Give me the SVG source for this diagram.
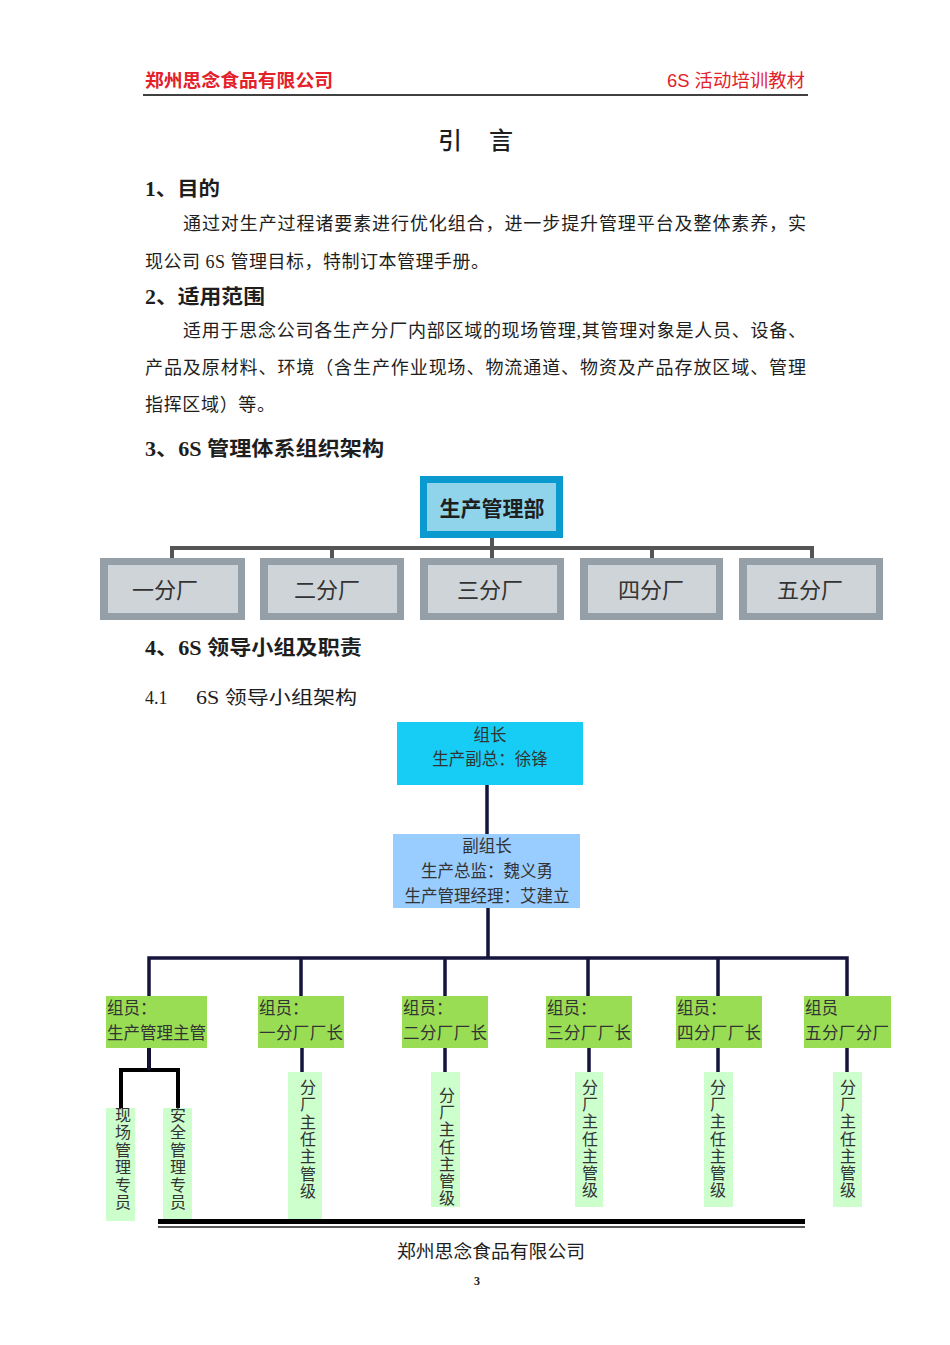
<svg xmlns="http://www.w3.org/2000/svg" width="950" height="1345" viewBox="0 0 950 1345">
<style>
text{font-family:"Liberation Serif","Noto Sans CJK SC",serif;fill:#1e1e1e}
.hdr{font-family:"Liberation Sans","Noto Sans CJK SC",sans-serif;fill:#e3212b;font-size:18px}
.h{font-size:20px;font-weight:bold}
.p{font-size:18px}
.br{font-size:22px;fill:#333;text-anchor:middle}
.n{font-size:16.5px;fill:#333}
.nc{font-size:16.5px;fill:#333;text-anchor:middle}
.v{font-size:16px;fill:#333;text-anchor:middle}
.gray{stroke:#555;stroke-width:4;fill:none}
.navy{stroke:#14143c;stroke-width:3.5;fill:none}
.blk{stroke:#000;stroke-width:4;fill:none}
.bo{fill:#959fa8}
.bi{fill:#cfd4d9}
.g{fill:#99dd55}
.lg{fill:#ccffcc}
</style>
<rect width="950" height="1345" fill="#fff"/>
<g id="header">
<text class="hdr" x="145" y="87" font-weight="bold" textLength="188" lengthAdjust="spacingAndGlyphs">郑州思念食品有限公司</text>
<text class="hdr" x="805" y="87" text-anchor="end" textLength="138" lengthAdjust="spacingAndGlyphs">6S 活动培训教材</text>
<line x1="143" y1="95" x2="808" y2="95" stroke="#000" stroke-width="1.3"/>
</g>
<g id="title">
<text x="450" y="149" font-size="24" font-weight="500" text-anchor="middle">引</text>
<text x="501" y="149" font-size="24" font-weight="500" text-anchor="middle">言</text>
</g>
<g id="sec1">
<text class="h" x="145" y="196" textLength="75" lengthAdjust="spacingAndGlyphs">1、目的</text>
<text class="p" x="183" y="230" textLength="623" lengthAdjust="spacing">通过对生产过程诸要素进行优化组合，进一步提升管理平台及整体素养，实</text>
<text class="p" x="145" y="268" textLength="344" lengthAdjust="spacing">现公司 6S 管理目标，特制订本管理手册。</text>
</g>
<g id="sec2">
<text class="h" x="145" y="304" textLength="120" lengthAdjust="spacingAndGlyphs">2、适用范围</text>
<text class="p" x="183" y="337" textLength="623" lengthAdjust="spacing">适用于思念公司各生产分厂内部区域的现场管理,其管理对象是人员、设备、</text>
<text class="p" x="145" y="374" textLength="661" lengthAdjust="spacing">产品及原材料、环境（含生产作业现场、物流通道、物资及产品存放区域、管理</text>
<text class="p" x="145" y="411" textLength="130" lengthAdjust="spacing">指挥区域）等。</text>
</g>
<text class="h" x="145" y="456" textLength="239" lengthAdjust="spacingAndGlyphs">3、6S 管理体系组织架构</text>
<g id="org1-connectors">
<path class="gray" d="M492 538V548M172 558V548H812V558M332 548V558M492 548V558M652 548V558"/>
</g>
<g id="org1-top">
<rect x="420" y="476" width="143" height="62" fill="#0b9ad0"/>
<rect x="427" y="483" width="129" height="48" fill="#8fd4ea"/>
<text x="492" y="516" font-size="21" font-weight="bold" text-anchor="middle" fill="#111">生产管理部</text>
</g>
<g id="org1-b1"><rect class="bo" x="100" y="558" width="145" height="62"/><rect class="bi" x="108" y="565" width="130" height="48"/><text class="br" x="165" y="598">一分厂</text></g>
<g id="org1-b2"><rect class="bo" x="260" y="558" width="144" height="62"/><rect class="bi" x="268" y="565" width="129" height="48"/><text class="br" x="327" y="598">二分厂</text></g>
<g id="org1-b3"><rect class="bo" x="420" y="558" width="144" height="62"/><rect class="bi" x="428" y="565" width="129" height="48"/><text class="br" x="490" y="598">三分厂</text></g>
<g id="org1-b4"><rect class="bo" x="580" y="558" width="143" height="62"/><rect class="bi" x="588" y="565" width="128" height="48"/><text class="br" x="651" y="598">四分厂</text></g>
<g id="org1-b5"><rect class="bo" x="739" y="558" width="144" height="62"/><rect class="bi" x="747" y="565" width="129" height="48"/><text class="br" x="810" y="598">五分厂</text></g>
<text class="h" x="145" y="655" textLength="217" lengthAdjust="spacingAndGlyphs">4、6S 领导小组及职责</text>
<text class="p" x="145" y="704" font-size="19">4.1</text>
<text class="p" x="196" y="704" font-size="19.5" textLength="161" lengthAdjust="spacingAndGlyphs">6S 领导小组架构</text>
<g id="org2-connectors">
<path class="navy" d="M487 785V835M488 908V958M149 996V958H847V996M301 958V996M445 958V996M588 958V996M718 958V996"/>
<path class="navy" d="M302 1048V1072M445 1048V1072M589 1048V1072M718 1048V1072M847 1048V1072"/>
<path class="blk" d="M149 1048V1070M121 1108V1070H178V1108"/>
<path class="navy" d="M149 1048V1070"/>
</g>
<g id="leader"><rect x="397" y="722" width="186" height="63" fill="#17cdf5"/><text class="nc" x="490" y="741">组长</text><text class="nc" x="490" y="765">生产副总：徐锋</text></g>
<g id="vice"><rect x="393" y="834" width="187" height="74" fill="#99ccff"/><text class="nc" x="487" y="852">副组长</text><text class="nc" x="487" y="877">生产总监：魏义勇</text><text class="nc" x="487" y="902">生产管理经理：艾建立</text></g>
<g id="m1"><rect class="g" x="106" y="996" width="101" height="52"/><text class="n" x="107" y="1014">组员：</text><text class="n" x="107" y="1039" textLength="99" lengthAdjust="spacing">生产管理主管</text></g>
<g id="m2"><rect class="g" x="258" y="996" width="86" height="52"/><text class="n" x="259" y="1014">组员：</text><text class="n" x="259" y="1039" textLength="84" lengthAdjust="spacing">一分厂厂长</text></g>
<g id="m3"><rect class="g" x="402" y="996" width="86" height="52"/><text class="n" x="403" y="1014">组员：</text><text class="n" x="403" y="1039" textLength="84" lengthAdjust="spacing">二分厂厂长</text></g>
<g id="m4"><rect class="g" x="546" y="996" width="86" height="52"/><text class="n" x="547" y="1014">组员：</text><text class="n" x="547" y="1039" textLength="84" lengthAdjust="spacing">三分厂厂长</text></g>
<g id="m5"><rect class="g" x="676" y="996" width="86" height="52"/><text class="n" x="677" y="1014">组员：</text><text class="n" x="677" y="1039" textLength="84" lengthAdjust="spacing">四分厂厂长</text></g>
<g id="m6"><rect class="g" x="804" y="996" width="87" height="52"/><text class="n" x="805" y="1014">组员</text><text class="n" x="805" y="1039" textLength="84" lengthAdjust="spacing">五分厂分厂</text></g>
<g id="s1"><rect class="lg" x="106" y="1108" width="29" height="113"/><text class="v" x="123" y="1121"><tspan x="123">现</tspan><tspan x="123" dy="17.4">场</tspan><tspan x="123" dy="17.4">管</tspan><tspan x="123" dy="17.4">理</tspan><tspan x="123" dy="17.4">专</tspan><tspan x="123" dy="17.4">员</tspan></text></g>
<g id="s2"><rect class="lg" x="163" y="1108" width="29" height="113"/><text class="v" x="178" y="1121"><tspan x="178">安</tspan><tspan x="178" dy="17.4">全</tspan><tspan x="178" dy="17.4">管</tspan><tspan x="178" dy="17.4">理</tspan><tspan x="178" dy="17.4">专</tspan><tspan x="178" dy="17.4">员</tspan></text></g>
<g id="c2"><rect class="lg" x="288" y="1072" width="34" height="149"/><text class="v" x="308" y="1093"><tspan x="308">分</tspan><tspan x="308" dy="17.3">厂</tspan><tspan x="308" dy="17.3">主</tspan><tspan x="308" dy="17.3">任</tspan><tspan x="308" dy="17.3">主</tspan><tspan x="308" dy="17.3">管</tspan><tspan x="308" dy="17.3">级</tspan></text></g>
<g id="c3"><rect class="lg" x="431" y="1072" width="29" height="135"/><text class="v" x="447" y="1101"><tspan x="447">分</tspan><tspan x="447" dy="17.2">厂</tspan><tspan x="447" dy="17.2">主</tspan><tspan x="447" dy="17.2">任</tspan><tspan x="447" dy="17.2">主</tspan><tspan x="447" dy="17.2">管</tspan><tspan x="447" dy="17.2">级</tspan></text></g>
<g id="c4"><rect class="lg" x="575" y="1072" width="28" height="135"/><text class="v" x="590" y="1093"><tspan x="590">分</tspan><tspan x="590" dy="17.2">厂</tspan><tspan x="590" dy="17.2">主</tspan><tspan x="590" dy="17.2">任</tspan><tspan x="590" dy="17.2">主</tspan><tspan x="590" dy="17.2">管</tspan><tspan x="590" dy="17.2">级</tspan></text></g>
<g id="c5"><rect class="lg" x="704" y="1072" width="29" height="135"/><text class="v" x="718" y="1093"><tspan x="718">分</tspan><tspan x="718" dy="17.2">厂</tspan><tspan x="718" dy="17.2">主</tspan><tspan x="718" dy="17.2">任</tspan><tspan x="718" dy="17.2">主</tspan><tspan x="718" dy="17.2">管</tspan><tspan x="718" dy="17.2">级</tspan></text></g>
<g id="c6"><rect class="lg" x="833" y="1072" width="29" height="135"/><text class="v" x="848" y="1093"><tspan x="848">分</tspan><tspan x="848" dy="17.2">厂</tspan><tspan x="848" dy="17.2">主</tspan><tspan x="848" dy="17.2">任</tspan><tspan x="848" dy="17.2">主</tspan><tspan x="848" dy="17.2">管</tspan><tspan x="848" dy="17.2">级</tspan></text></g>
<g id="footer">
<rect x="158" y="1219" width="647" height="5" fill="#000"/>
<line x1="158" y1="1227" x2="805" y2="1227" stroke="#222" stroke-width="1.5"/>
<text x="491" y="1258" font-size="18" fill="#333" text-anchor="middle" textLength="188" lengthAdjust="spacingAndGlyphs">郑州思念食品有限公司</text>
<text x="477" y="1285" font-size="12" font-weight="bold" text-anchor="middle">3</text>
</g>
</svg>
